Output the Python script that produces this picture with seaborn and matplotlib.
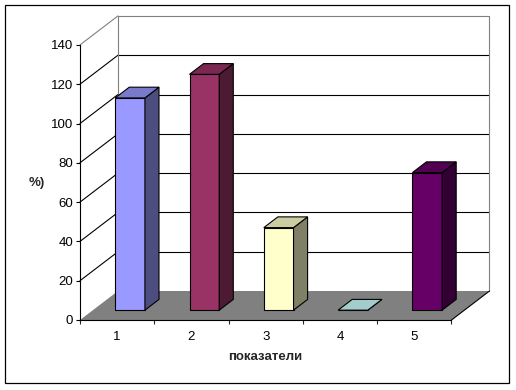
import numpy as np
import pandas as pd
import matplotlib
matplotlib.use("Agg")
import matplotlib.pyplot as plt
import seaborn as sns
from matplotlib.patches import Polygon, Rectangle
from matplotlib.colors import to_rgb

# ---- data ----
categories = ["1", "2", "3", "4", "5"]
values = [108, 120, 42, 0, 70]
colors = ["#9999FF", "#993366", "#FFFFCC", "#CCFFFF", "#660066"]
yticks = [0, 20, 40, 60, 80, 100, 120, 140]
ylabel = "%)"
xlabel = "показатели"

sns.set_style("white")
plt.rcParams['font.family'] = ['Liberation Sans', 'DejaVu Sans']

W, H = 516, 390
fig = plt.figure(figsize=(W / 100, H / 100), dpi=100)

# layout (pixels per data unit and 3D depth offset)
SX = 74.3
SY = 39.3 / 20
DXP, DYP = 38, 29
DX, DY = DXP / SX, DYP / SY
X0PX, Y0PX = 80, 320
BW = 0.40     # bar width (category units)
D0 = 0.34     # bar front depth fraction
BD = 0.37     # bar depth fraction
YMAX = 140

xlim = (-0.5, len(categories) - 0.5 + DX)
ylim = (0, YMAX + DY)
ax = fig.add_axes([X0PX / W, (H - Y0PX) / H,
                   (xlim[1] - xlim[0]) * SX / W, (ylim[1] - ylim[0]) * SY / H])
ax.patch.set_alpha(0)

df = pd.DataFrame({"cat": categories, "val": values})
sns.barplot(data=df, x="cat", y="val", hue="cat", palette=colors, legend=False,
            width=BW, saturation=1, edgecolor="black", linewidth=0.8, ax=ax, zorder=5)

n = len(categories)
xl, xr = -0.5, n - 0.5
GRAY = "#808080"
lw = 0.8

# floor
ax.add_patch(Polygon([(xl, 0), (xr, 0), (xr + DX, DY), (xl + DX, DY)], closed=True,
                     facecolor=GRAY, edgecolor="none", zorder=2, clip_on=False))
ax.plot([xr, xr + DX], [0, DY], color="black", lw=lw, zorder=2.5, clip_on=False)

# walls: gridlines on back wall and left wall
for v in yticks[1:]:
    c = GRAY if v == YMAX else "black"
    ax.plot([xl + DX, xr + DX], [v + DY, v + DY], color=c, lw=lw, zorder=1, clip_on=False)
    ax.plot([xl, xl + DX], [v, v + DY], color=c, lw=lw, zorder=1, clip_on=False)
ax.plot([xl + DX, xl + DX], [DY, YMAX + DY], color=GRAY, lw=lw, zorder=1, clip_on=False)
ax.plot([xr + DX, xr + DX], [DY, YMAX + DY], color=GRAY, lw=lw, zorder=1, clip_on=False)


def shade(c, f):
    r, g, b = to_rgb(c)
    return (r * f, g * f, b * f)


# 3D bar faces built from the seaborn bars
for p, col in zip(ax.patches[:n], colors):
    p.set_x(p.get_x() + D0 * DX)
    p.set_y(D0 * DY)
    p.set_clip_on(False)
    x, y, w, h = p.get_x(), p.get_y(), p.get_width(), p.get_height()
    ddx, ddy = BD * DX, BD * DY
    top = [(x, y + h), (x + w, y + h), (x + w + ddx, y + h + ddy), (x + ddx, y + h + ddy)]
    side = [(x + w, y), (x + w + ddx, y + ddy), (x + w + ddx, y + h + ddy), (x + w, y + h)]
    ax.add_patch(Polygon(side, closed=True, facecolor=shade(col, 0.5), edgecolor="black",
                         lw=lw, zorder=5, clip_on=False))
    ax.add_patch(Polygon(top, closed=True, facecolor=shade(col, 0.8), edgecolor="black",
                         lw=lw, zorder=5, clip_on=False))

# axes
ax.set_xlim(xlim)
ax.set_ylim(ylim)
for s in ["top", "right"]:
    ax.spines[s].set_visible(False)
ax.spines["left"].set_bounds(0, YMAX)
ax.spines["bottom"].set_bounds(xl, xr)
for s in ["left", "bottom"]:
    ax.spines[s].set_linewidth(lw)
    ax.spines[s].set_color("black")
    ax.spines[s].set_zorder(6)
ax.set_yticks(yticks)
ax.set_yticklabels([str(v) for v in yticks])
ax.set_xticks(np.arange(xl, xr + 0.01, 1.0))
ax.set_xticklabels([])
ax.set_xticks(range(n), minor=True)
ax.set_xticklabels(categories, minor=True)
ax.tick_params(axis="y", which="major", direction="out", length=3, width=lw, pad=2,
               labelsize=9.5, left=True, colors="black")
ax.tick_params(axis="x", which="major", direction="out", length=3, width=lw, bottom=True)
ax.tick_params(axis="x", which="minor", length=0, pad=8, labelsize=9.5, colors="black")
ax.set_xlabel("")
ax.set_ylabel("")

fig.text(37 / W, 1 - 183 / H, ylabel, ha="center", va="center", fontsize=9.5,
         fontweight="bold")
fig.text(265 / W, 1 - 357 / H, xlabel, ha="center", va="center", fontsize=9.5,
         fontweight="bold")

# outer frame
fig.patches.append(Rectangle((5 / W, 7 / H), 504 / W, 378 / H, transform=fig.transFigure,
                             fill=False, edgecolor="black", lw=0.9))

fig.savefig("out.png", dpi=100)
